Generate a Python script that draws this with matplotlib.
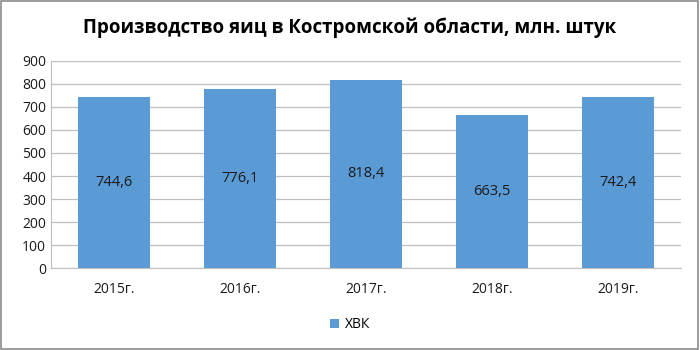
import matplotlib.pyplot as plt
import numpy as np
from matplotlib.patches import Rectangle

plt.rcParams['font.family'] = ['Open Sans', 'DejaVu Sans']

years = ['2015г.', '2016г.', '2017г.', '2018г.', '2019г.']
values = [744.6, 776.1, 818.4, 663.5, 742.4]
labels = ['744,6', '776,1', '818,4', '663,5', '742,4']

fig = plt.figure(figsize=(7, 3.5), dpi=100)
ax = fig.add_axes([0.073, 0.234, 0.900, 0.592])

x = np.arange(len(years))
bars = ax.bar(x, values, width=0.57, color='#5b9bd5', label='ХВК', zorder=3)
for xi, v, lab in zip(x, values, labels):
    ax.text(xi, v / 2, lab, ha='center', va='center', fontsize=10.5, color='#1a1a1a', zorder=4)

ax.set_xlim(-0.5, len(years) - 0.5)
ax.set_ylim(0, 900)
ax.set_yticks(range(0, 901, 100))
ax.set_xticks(x)
ax.set_xticklabels(years)
ax.tick_params(axis='both', length=0, labelsize=10, colors='#1a1a1a')
ax.tick_params(axis='x', pad=10)
ax.grid(axis='y', color='#bfbfbf', linewidth=0.9, zorder=0)
for s in ['top', 'right']:
    ax.spines[s].set_visible(False)
ax.spines['left'].set_color('#bfbfbf')
ax.spines['bottom'].set_color('#bfbfbf')

fig.text(0.5, 0.92, 'Производство яиц в Костромской области, млн. штук',
         ha='center', va='center', fontsize=13.5, fontweight='bold')

fig.legend(loc='center', bbox_to_anchor=(0.5, 0.072), frameon=False,
           fontsize=10, handlelength=0.7, handleheight=0.7, handletextpad=0.4)

fig.patches.append(Rectangle((0.002, 0.003), 0.995, 0.993, transform=fig.transFigure,
                             fill=False, edgecolor='#8c8c8c', linewidth=1.2))

fig.savefig('out.png', dpi=100)
